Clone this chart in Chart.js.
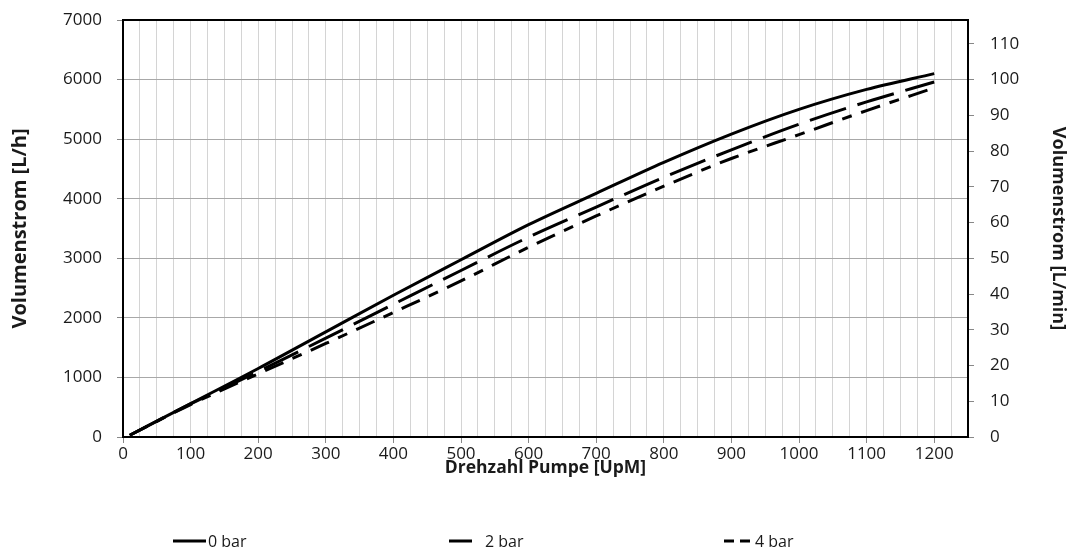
<!DOCTYPE html>
<html>
<head>
<meta charset="utf-8">
<script src="https://cdn.jsdelivr.net/npm/chart.js@4.4.0/dist/chart.umd.min.js"></script>
<style>
  body { margin: 0; background: #fff; }
  #wrap { width: 1069px; height: 550px; }
</style>
</head>
<body>
<div id="wrap"><canvas id="pumpChart"></canvas></div>
<script>
// pump speed (UpM) and flow (L/h)
var rpm = [10, 100, 200, 300, 400, 500, 600, 700, 800, 900, 1000, 1100, 1200];
var flow0bar = [30, 560, 1150, 1765, 2380, 2975, 3565, 4090, 4610, 5085, 5500, 5835, 6100];
var flow2bar = [30, 555, 1100, 1660, 2228, 2795, 3355, 3860, 4360, 4820, 5250, 5625, 5960];
var flow4bar = [30, 545, 1060, 1570, 2090, 2620, 3185, 3710, 4210, 4675, 5075, 5480, 5860];
var seriesNames = ['0 bar', '2 bar', '4 bar'];

var FONT = '"Open Sans", "Liberation Sans", sans-serif';
var TXT = '#1a1a1a';

function points(ys) {
  return rpm.map(function(x, i) { return { x: x, y: ys[i] }; });
}

//legend drawn by hand so the entries can be spread out like the original
var spreadLegend = {
  id: 'spreadLegend',
  afterDraw: function(chart, args, opts) {
    var ctx = chart.ctx;
    ctx.save();
    chart.data.datasets.forEach(function(ds, i) {
      var x = opts.left[i], y = opts.y;
      ctx.beginPath();
      ctx.lineWidth = 3;
      ctx.strokeStyle = '#000';
      ctx.setLineDash(opts.dash[i]);
      ctx.moveTo(x, y);
      ctx.lineTo(x + 33, y);
      ctx.stroke();
      ctx.setLineDash([]);
      ctx.fillStyle = TXT;
      ctx.font = '16px ' + FONT;
      ctx.textBaseline = 'middle';
      ctx.fillText(ds.label, x + opts.textGap[i], y + 1);
    });
    ctx.restore();
  }
};

//black frame round the plot area
var plotFrame = {
  id: 'plotFrame',
  afterDatasetsDraw: function(chart) {
    var a = chart.chartArea, ctx = chart.ctx;
    ctx.save();
    ctx.lineWidth = 2;
    ctx.strokeStyle = '#000';
    ctx.strokeRect(a.left, a.top, a.right - a.left, a.bottom - a.top);
    ctx.restore();
  }
};

function plain(v) { return String(v); }

//fixed width, and no extra top/bottom padding from the tick labels
function fixWidth(w) {
  return function(s) {
    s.width = w;
    s.paddingTop = 0;
    s.paddingBottom = 0;
  };
}

new Chart(document.getElementById('pumpChart'), {
  type: 'line',
  data: {
    datasets: [
      { label: seriesNames[0], data: points(flow0bar), borderDash: [] },
      { label: seriesNames[1], data: points(flow2bar), borderDash: [38, 12] },
      { label: seriesNames[2], data: points(flow4bar), borderDash: [20, 10, 10, 10] }
    ].map(function(ds) {
      ds.borderColor = '#000';
      ds.borderWidth = 3;
      ds.pointRadius = 0;
      ds.fill = false;
      ds.cubicInterpolationMode = 'monotone';
      ds.yAxisID = 'y';
      return ds;
    })
  },
  options: {
    responsive: true,
    maintainAspectRatio: false,
    animation: false,
    layout: { padding: { top: 20, left: 0, right: 0, bottom: 69 } },
    plugins: {
      legend: { display: false },
      tooltip: { enabled: false },
      spreadLegend: {
        y: 541,
        left: [173, 449, 724],
        textGap: [35, 36, 31],
        dash: [[], [23, 40], [10, 6, 10, 20]]
      }
    },
    scales: {
      x: {
        type: 'linear',
        min: 0,
        max: 1250,
        afterFit: function(s) { s.height = 44; },
        ticks: {
          stepSize: 25,
          autoSkip: false,
          maxRotation: 0,
          color: TXT,
          font: { family: FONT, size: 17 },
          padding: 1,
          callback: function(v) { return v % 100 === 0 && v <= 1200 ? String(v) : ''; }
        },
        grid: {
          color: '#d4d4d4',
          lineWidth: 1,
          tickLength: 6,
          tickColor: function(c) { return c.tick && c.tick.value % 100 === 0 && c.tick.value <= 1200 ? '#888' : 'rgba(0,0,0,0)'; }
        },
        border: { color: '#000', width: 2 },
        title: {
          display: true,
          text: 'Drehzahl Pumpe [UpM]',
          color: TXT,
          font: { family: FONT, size: 17.5, weight: 'bold' },
          padding: { top: 0, bottom: 2 }
        }
      },
      y: {
        position: 'left',
        min: 0,
        max: 7000,
        afterFit: fixWidth(123),
        ticks: {
          stepSize: 1000,
          color: TXT,
          font: { family: FONT, size: 17 },
          padding: 15,
          callback: plain
        },
        grid: { color: '#a8a8a8', lineWidth: 1, tickLength: 6, tickColor: '#888' },
        border: { color: '#000', width: 2 },
        title: {
          display: true,
          text: 'Volumenstrom [L/h]',
          color: TXT,
          font: { family: FONT, size: 20, weight: 'bold' },
          padding: { top: 8, bottom: 0 }
        }
      },
      yMin: {
        position: 'right',
        display: true,
        min: 0,
        max: 7000 / 60,
        afterFit: fixWidth(101),
        ticks: {
          stepSize: 10,
          includeBounds: false,
          color: TXT,
          font: { family: FONT, size: 17 },
          padding: 16,
          callback: plain
        },
        grid: { drawOnChartArea: false, tickLength: 6, tickColor: '#888' },
        border: { color: '#000', width: 2 },
        title: {
          display: true,
          text: 'Volumenstrom [L/min]',
          color: TXT,
          font: { family: FONT, size: 18, weight: 'bold' },
          padding: { top: 0, bottom: 0 }
        }
      }
    }
  },
  plugins: [plotFrame, spreadLegend]
});
</script>
</body>
</html>
